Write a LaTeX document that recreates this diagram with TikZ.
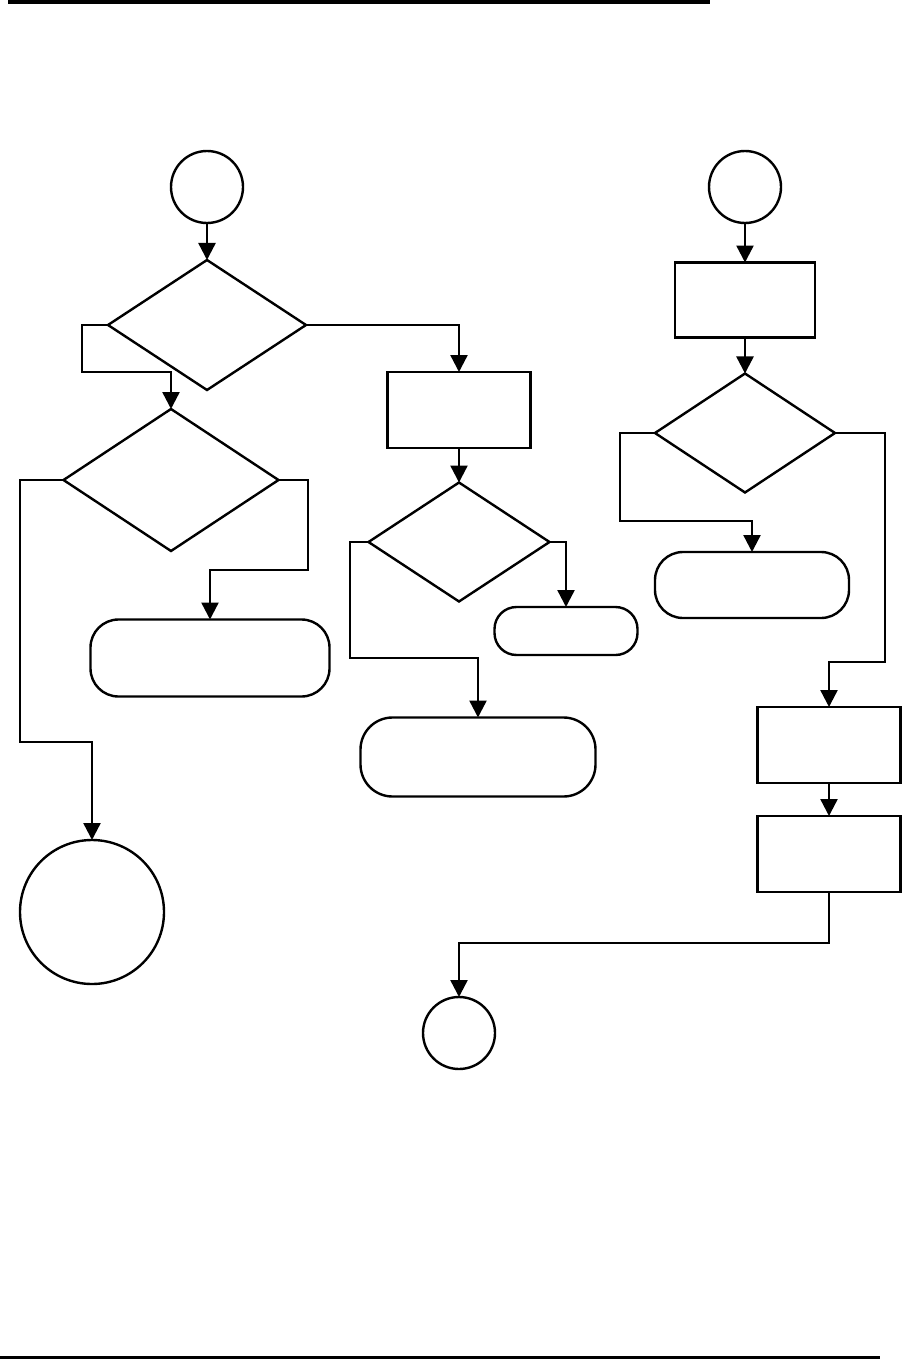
\documentclass[tikz,border=0pt]{standalone}
\usepackage{tikz}
\usetikzlibrary{shapes.geometric,arrows.meta}
\tikzset{>={Triangle[width=17pt,length=17pt]}}

\begin{document}
\begin{tikzpicture}[x=1pt,y=-1pt,line width=2.4pt]
      \tikzstyle{cnode} = [draw, circle, inner sep = 0pt, outer sep = 0pt]
      \tikzstyle{dnode} = [draw, diamond, inner sep = 0pt, outer sep = 0pt]
      \tikzstyle{bnode} = [draw, rectangle, inner sep = 0pt, outer sep = 0pt, minimum width = 143pt, minimum height = 76pt]
      \tikzstyle{tnode} = [draw, rectangle, rounded corners = 28pt, inner sep = 0pt, outer sep = 0pt]

      \useasboundingbox (0,0) rectangle (903,1359);
      \draw[line width=4pt] (8,2) -- (710,2);
      \draw[line width=3pt] (0,1357) -- (880,1357);

      % left column
      \node[cnode, minimum size = 72pt] (c01) at (207,187) {};
      \node[dnode, minimum width = 198pt, minimum height = 130pt] (d01) at (207,325) {};
      \node[dnode, minimum width = 215pt, minimum height = 142pt] (d02) at (171,480) {};
      \node[tnode, minimum width = 239pt, minimum height = 77pt] (t01) at (210,658) {};
      \node[cnode, minimum size = 144pt] (c02) at (92,912) {};

      % middle column
      \node[bnode] (b01) at (459,410) {};
      \node[dnode, minimum width = 181pt, minimum height = 119pt] (d03) at (459,542) {};
      \node[tnode, minimum width = 143pt, minimum height = 48pt, rounded corners = 22pt] (t02) at (566,631) {};
      \node[tnode, minimum width = 235pt, minimum height = 79pt, rounded corners = 32pt] (t03) at (478,757) {};
      \node[cnode, minimum size = 72pt] (c04) at (459,1033) {};

      % right column
      \node[cnode, minimum size = 72pt] (c03) at (745,187) {};
      \node[bnode, minimum width = 140pt, minimum height = 75pt] (b02) at (745,300) {};
      \node[dnode, minimum width = 180pt, minimum height = 119pt] (d04) at (745,433) {};
      \node[tnode, minimum width = 194pt, minimum height = 66pt] (t04) at (752,585) {};
      \node[bnode] (b03) at (829,745) {};
      \node[bnode] (b04) at (829,854) {};

      \draw[->] (c01) -- (d01);
      \draw[->] (d01.west) -| (82,372) -| (d02.north);
      \draw[->] (d02.east) -| (308,570) -| (t01.north);
      \draw[->] (d02.west) -| (20,742) -| (c02.north);
      \draw[->] (d01.east) -| (b01.north);
      \draw[->] (b01) -- (d03);
      \draw[->] (d03.east) -| (t02.north);
      \draw[->] (d03.west) -| (350,658) -| (t03.north);
      \draw[->] (c03) -- (b02);
      \draw[->] (b02) -- (d04);
      \draw[->] (d04.west) -| (620,521) -| (t04.north);
      \draw[->] (d04.east) -| (885,662) -| (b03.north);
      \draw[->] (b03) -- (b04);
      \draw[->] (b04.south) -- ++(0,51) -| (c04.north);
    \end{tikzpicture}
\end{document}
